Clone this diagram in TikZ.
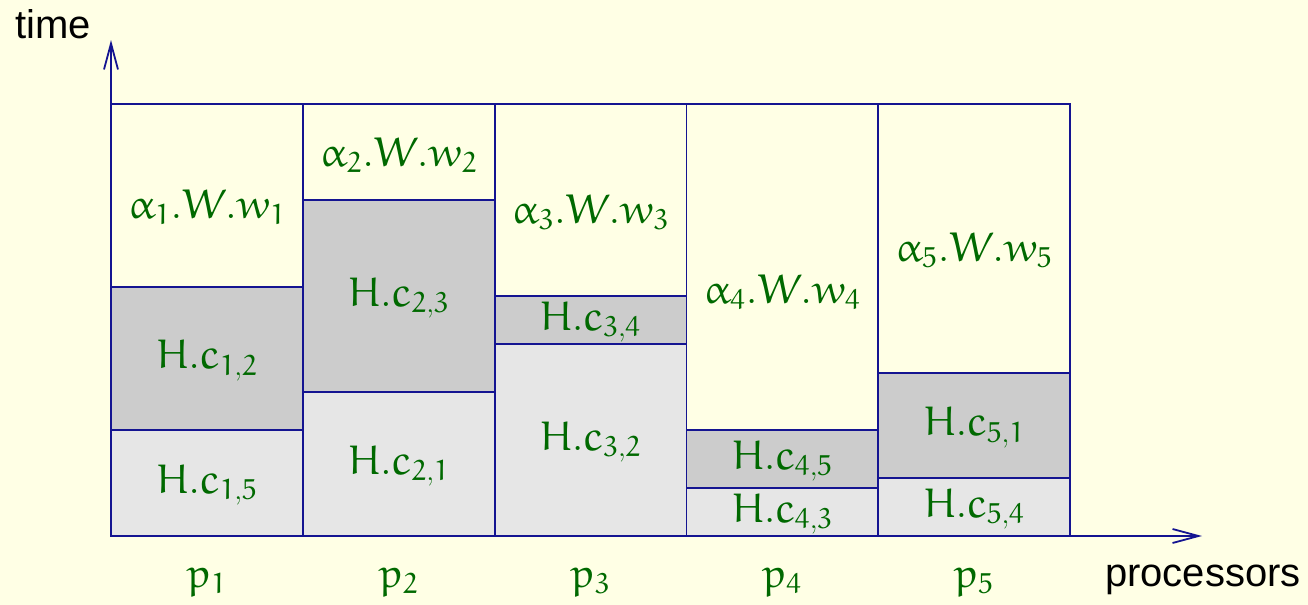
\documentclass[tikz,border=0pt]{standalone}
\usepackage{fontspec}
\setsansfont{Liberation Sans}
\usetikzlibrary{arrows.meta}
\DeclareSymbolFont{eulerfont}{U}{eur}{m}{n}
\DeclareMathAlphabet{\mathEu}{U}{eur}{m}{n}
\DeclareMathSymbol{\ealpha}{\mathord}{eulerfont}{"0B}
\definecolor{bgyellow}{rgb}{1,1,0.9}
\definecolor{axisblue}{RGB}{20,20,145}
\definecolor{boxdark}{RGB}{204,204,204}
\definecolor{boxlight}{RGB}{230,230,230}
\definecolor{labgreen}{RGB}{0,105,0}
\begin{document}
\begin{tikzpicture}[x=0.5pt,y=-0.5pt,
  ln/.style={draw=axisblue, line width=0.9pt},
  whitebox/.style={ln},
  darkbox/.style={ln, fill=boxdark},
  lightbox/.style={ln, fill=boxlight},
  lab/.style={text=labgreen, font=\huge, inner sep=0pt},
  axislab/.style={text=black, font=\sffamily\fontsize{20}{24}\selectfont, inner sep=0pt},
  axisarrow/.style={draw=axisblue, line width=0.9pt, -{Straight Barb[length=13pt,width=7pt,line width=0.9pt]}}]
\fill[bgyellow] (0,0) rectangle (1308,605);
\useasboundingbox (0,0) rectangle (1308,605);
% axes
\coordinate (o) at (111,536);
\coordinate (ytip) at (111,40);
\coordinate (xtip) at (1202,536);
\draw[axisarrow] (o) -- (ytip);
\draw[axisarrow] (o) -- (xtip);
\node[axislab] (time) at (53,24) {time};
\node[axislab] (proc) at (1203,580) {processors};
% columns
\foreach \x/\a/\b/\i/\dj/\lj/\ay in {111/287/430/1/2/5/207, 302.8/200/392/2/3/1/155, 494.6/296/344/3/4/2/212, 686.4/430/488/4/5/3/292, 878.2/373/478/5/1/4/250}{
  \draw[whitebox] (\x,104) rectangle (\x+191.8,\a);
  \draw[darkbox] (\x,\a) rectangle (\x+191.8,\b);
  \draw[lightbox] (\x,\b) rectangle (\x+191.8,536);
  \node[lab] (w\i) at (\x+95.9,\ay) {$\mathEu{\ealpha_{\i}.W.w_{\i}}$};
  \node[lab] (d\i) at (\x+95.9,{(\a+\b)/2+2}) {$\mathEu{H.c_{\i,\dj}}$};
  \node[lab] (l\i) at (\x+95.9,{(\b+536)/2+2}) {$\mathEu{H.c_{\i,\lj}}$};
  \node[lab] (p\i) at (\x+95.9,582) {$\mathEu{p_{\i}}$};
}
\end{tikzpicture}
\end{document}
